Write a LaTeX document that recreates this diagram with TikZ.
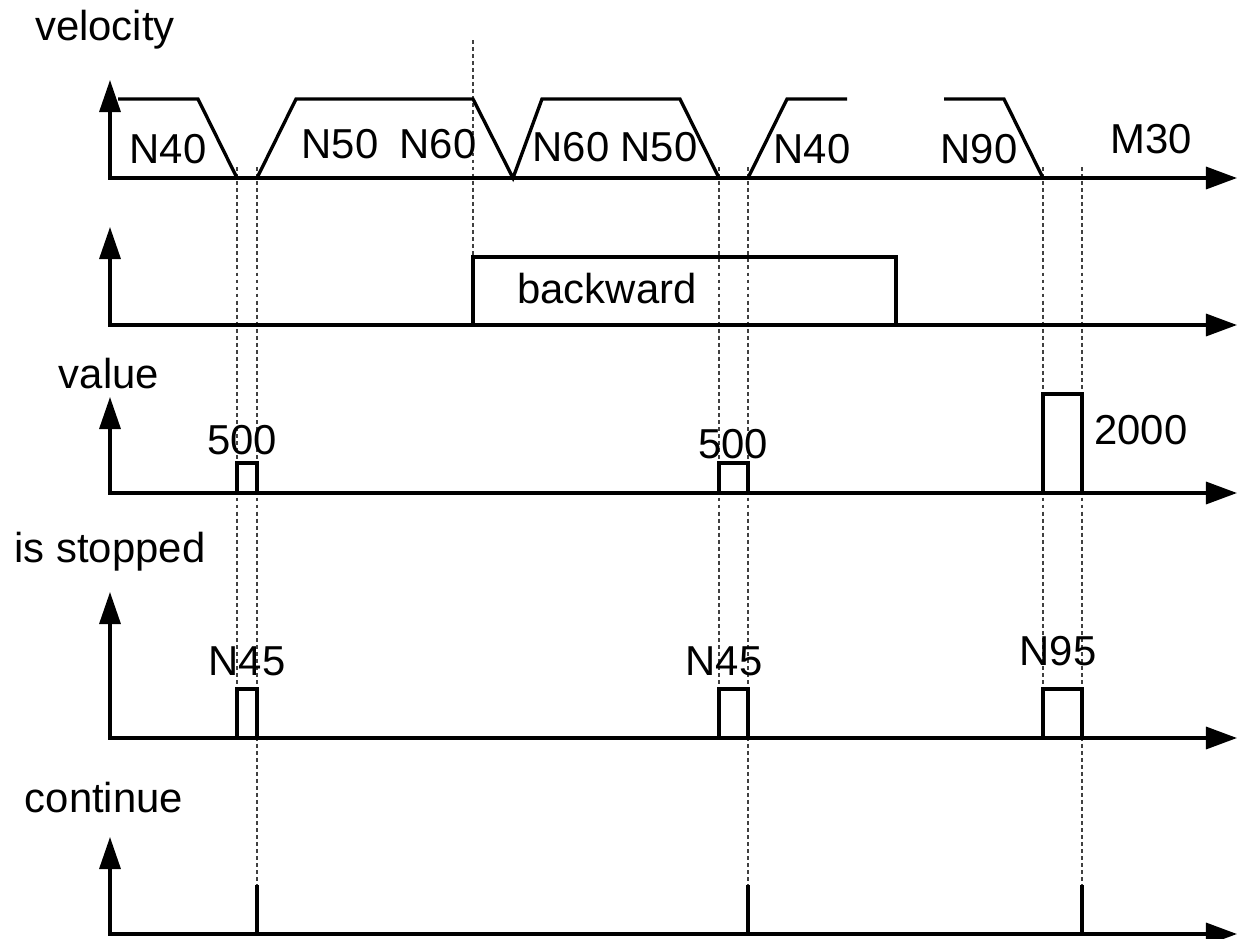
\documentclass[tikz,border=0pt]{standalone}
\usepackage{fontspec}
\setmainfont{Liberation Sans}
\usetikzlibrary{arrows.meta}

\tikzset{
  axis/.style={line width=0.95pt, {Triangle[length=0.32cm,width=0.21cm]}-{Triangle[length=0.31cm,width=0.22cm]}},
  signal/.style={line width=0.95pt, line join=miter},
  guide/.style={black!75, line width=0.3pt, dash pattern=on 1.1pt off 0.9pt},
  lbl/.style={font=\fontsize{11.9}{14}\selectfont, inner sep=0pt, anchor=base},
}

\begin{document}
\begin{tikzpicture}[x=0.01cm,y=-0.01cm]
\useasboundingbox (0,0) rectangle (1238,939);

% Dotted time markers
\draw[guide] (473,40) -- (473,257);
\foreach \x in {237,719,1043} {
    \draw[guide] (\x,167) -- (\x,689);
}
\foreach \x in {257,748,1082} {
    \draw[guide] (\x,167) -- (\x,885);
}

% Axes (baseline/tip)
\foreach \b/\t in {178/80,325/227,493/397,738/592,934/837} {
    \draw[axis] (110,\t) -- (110,\b) -- (1237,\b);
}

% Signal names
\node[lbl] (velname) at (105,40) {velocity};
\node[lbl] (valname) at (109,388) {value};
\node[lbl] (stopname) at (110,562) {is stopped};
\node[lbl] (contname) at (104,812) {continue};

% Velocity profile
\draw[signal] (118,99) -- (198,99) -- (237,178);
\draw[signal] (257,178) -- (296,99) -- (473,99) -- (513,178) -- (542,99) -- (680,99) -- (719,178);
\draw[signal] (748,178) -- (787,99) -- (847,99);
\draw[signal] (944,99) -- (1004,99) -- (1043,178);
\node[lbl] (n40a) at (168,163) {N40};
\node[lbl] (n50a) at (340,158) {N50};
\node[lbl] (n60a) at (438,158) {N60};
\node[lbl] (n60b) at (571,161) {N60};
\node[lbl] (n50b) at (659,161) {N50};
\node[lbl] (n40b) at (812,163) {N40};
\node[lbl] (n90) at (979,163) {N90};
\node[lbl] (m30) at (1151,153) {M30};

% Direction
\draw[signal] (473,325) -- (473,257) -- (896,257) -- (896,325);
\node[lbl] (bwd) at (607,303) {backward};

% Value pulses
\foreach \l/\r/\h in {237/257/463,719/748/463,1043/1082/394} {
    \draw[signal] (\l,493) -- (\l,\h) -- (\r,\h) -- (\r,493);
}
\node[lbl] (v500a) at (242,454) {500};
\node[lbl] (v500b) at (733,458) {500};
\node[lbl] (v2000) at (1141,444) {2000};

% Stopped pulses
\foreach \l/\r in {237/257,719/748,1043/1082} {
    \draw[signal] (\l,738) -- (\l,689) -- (\r,689) -- (\r,738);
}
\node[lbl] (n45a) at (247,675) {N45};
\node[lbl] (n45b) at (724,675) {N45};
\node[lbl] (n95) at (1058,665) {N95};

% Continue spikes
\foreach \x in {257,748,1082} {
    \draw[signal] (\x,934) -- (\x,885);
}
\end{tikzpicture}
\end{document}
